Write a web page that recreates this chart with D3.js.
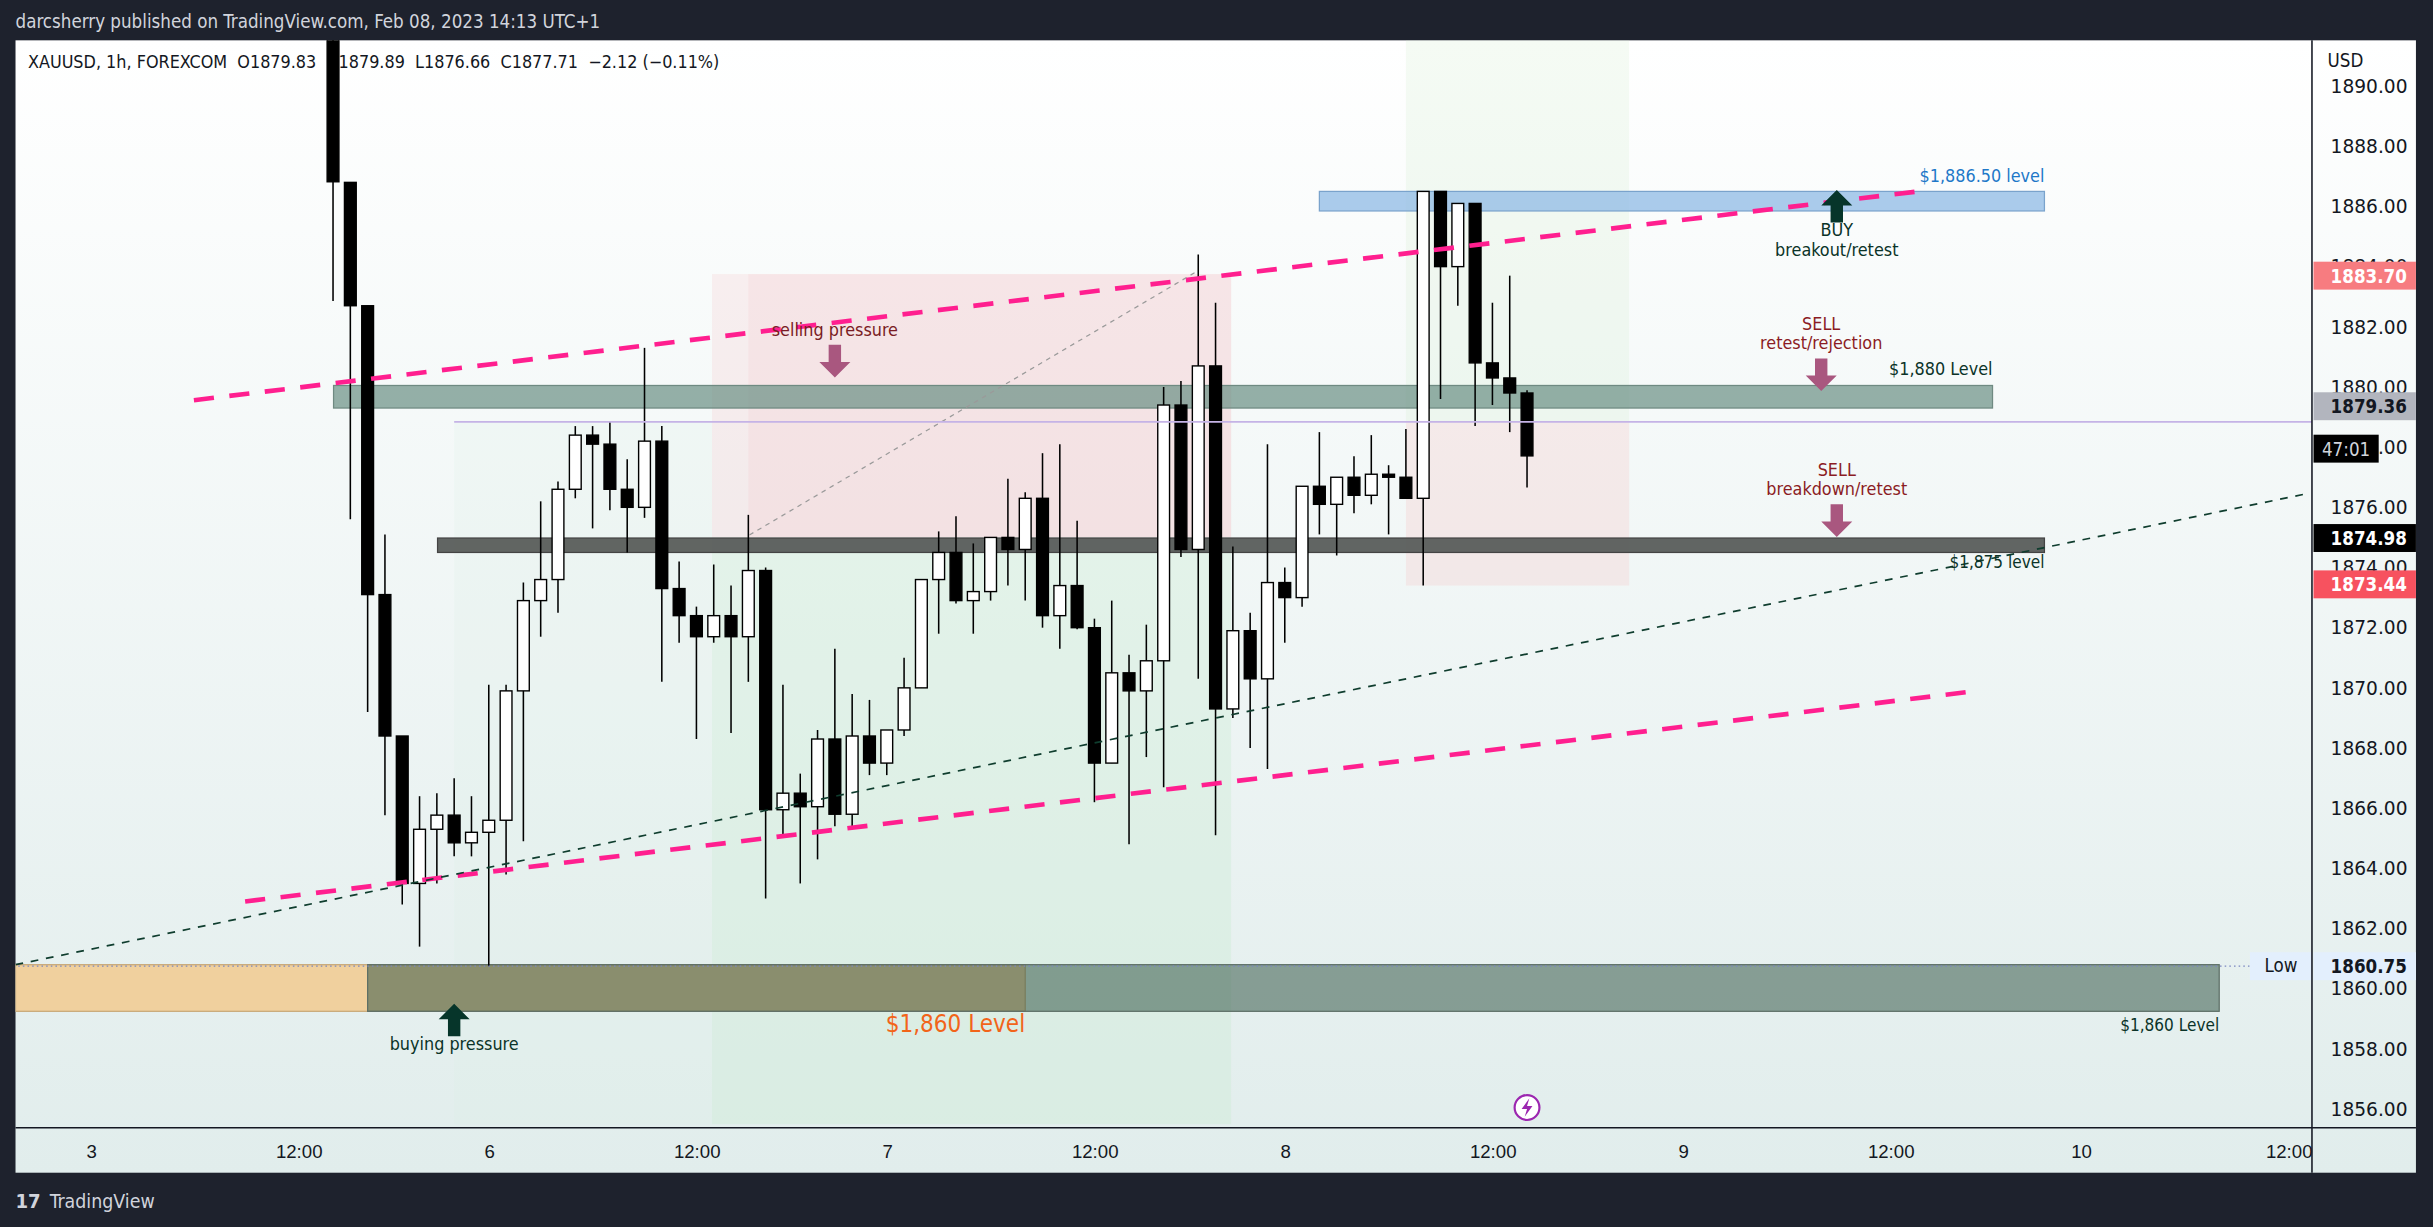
<!DOCTYPE html>
<html>
<head>
<meta charset="utf-8">
<script src="https://cdn.jsdelivr.net/npm/d3@7"></script>
<style>
  html, body { margin: 0; padding: 0; background: #1e222d; overflow: hidden; }
  svg { display: block; font-family: "DejaVu Sans Condensed", "DejaVu Sans", sans-serif; }
</style>
</head>
<body>
<div id="chart"></div>
<script>
// hourly XAUUSD candles, index 0 = Feb 3 14:00
const opens = [1892.5,1886.8,1882.7,1873.1,1868.4,1863.5,1865.3,1865.77,1864.85,1865.2,
  1865.6,1869.9,1872.9,1873.6,1876.6,1878.4,1878.1,1876.6,1876.0,1878.2,
  1873.3,1872.4,1871.7,1872.4,1871.7,1873.9,1865.95,1866.5,1866.05,1868.3,
  1865.8,1868.4,1867.5,1868.6,1870.0,1873.6,1874.5,1872.9,1873.2,1875.0,
  1874.6,1876.3,1872.4,1873.4,1872.0,1867.5,1870.5,1869.9,1870.9,1879.4,
  1874.6,1880.7,1869.3,1871.9,1870.3,1873.5,1873.0,1876.7,1876.1,1877.0,
  1876.4,1877.1,1877.0,1876.3,1886.5,1884.0,1886.1,1880.8,1880.3,1879.8];
const closes = [1886.82,1882.7,1873.1,1868.4,1863.5,1865.3,1865.77,1864.85,1865.2,1865.6,
  1869.9,1872.9,1873.6,1876.6,1878.4,1878.1,1876.6,1876.0,1878.2,1873.3,
  1872.4,1871.7,1872.4,1871.7,1873.9,1865.95,1866.5,1866.05,1868.3,1865.8,
  1868.4,1867.5,1868.6,1870.0,1873.6,1874.5,1872.9,1873.2,1875.0,1874.6,
  1876.3,1872.4,1873.4,1872.0,1867.5,1870.5,1869.9,1870.9,1879.4,1874.6,
  1880.7,1869.3,1871.9,1870.3,1873.5,1873.0,1876.7,1876.1,1877.0,1876.4,
  1877.1,1877.0,1876.3,1886.5,1884.0,1886.1,1880.8,1880.3,1879.8,1877.71];
const highs = [1893,1886.8,1882.7,1875.1,1868.4,1866.4,1866.5,1867.0,1866.4,1870.1,
  1870.1,1873.5,1876.2,1876.86,1878.7,1878.7,1878.84,1877.6,1881.3,1878.7,
  1874.2,1872.7,1874.1,1873.4,1875.75,1874.0,1870.1,1867.15,1868.6,1871.3,
  1869.8,1869.6,1868.6,1871.0,1873.6,1875.2,1875.7,1874.8,1875.0,1876.95,
  1876.5,1877.8,1878.1,1875.55,1872.3,1872.9,1871.1,1872.1,1880.0,1880.2,
  1884.4,1882.8,1874.7,1872.5,1878.1,1874.0,1876.7,1878.5,1877.0,1877.7,
  1878.4,1877.4,1878.6,1886.5,1886.5,1886.1,1886.1,1882.8,1883.7,1879.89];
const lows = [1882.86,1875.6,1869.2,1865.77,1862.8,1861.4,1863.5,1864.4,1864.4,1860.75,
  1863.8,1864.9,1871.7,1872.5,1876.3,1875.3,1875.9,1874.5,1875.65,1870.2,
  1871.5,1868.3,1871.5,1868.5,1870.2,1863.0,1865.1,1863.5,1864.3,1865.4,
  1865.3,1867.1,1867.1,1868.4,1870.0,1871.8,1872.8,1871.8,1872.9,1873.4,
  1872.9,1872.0,1871.3,1871.95,1866.2,1867.5,1864.8,1867.7,1866.7,1874.35,
  1870.3,1865.1,1869.0,1868.0,1867.3,1871.5,1872.7,1875.1,1874.4,1875.8,
  1876.1,1875.1,1876.3,1873.4,1879.6,1882.7,1878.7,1879.4,1878.5,1876.66];

const timeTicks = [-14, -2, 9, 21, 32, 44, 55, 67, 78, 90, 101, 113];
const timeLabels = ['3','12:00','6','12:00','7','12:00','8','12:00','9','12:00','10','12:00'];
const priceTicks = d3.range(1856, 1891, 2);
const axisTags = [
  {p: 1883.70, text: '1883.70', bg: '#f77c80', fg: '#fff'},
  {p: 1879.36, text: '1879.36', bg: '#b2b5be', fg: '#131722'},
  {p: 1877.95, text: '47:01', bg: '#000', fg: '#d1d4dc', short: true},
  {p: 1874.98, text: '1874.98', bg: '#000', fg: '#fff'},
  {p: 1873.44, text: '1873.44', bg: '#f7525f', fg: '#fff'},
  {p: 1860.75, text: '1860.75', bg: '#e3effd', fg: '#131722'}
];
// zones: i = [from, to] candle index, p = [top, bottom] price
const zones = [
  {i: [21.9, 51.9], p: [1883.75, 1875.0], fill: 'rgba(245,190,195,0.22)'},
  {i: [24.0, 51.9], p: [1883.75, 1875.0], fill: 'rgba(245,190,195,0.18)'},
  {i: [21.9, 51.9], p: [1875.0, 1855.5], fill: 'rgba(200,235,210,0.35)'},
  {i: [7.0, 21.9], p: [1878.84, 1855.5], fill: 'rgba(215,238,225,0.18)'},
  {i: [62.0, 74.9], p: [1891.8, 1878.84], fill: 'rgba(205,235,200,0.20)'},
  {i: [62.0, 74.9], p: [1878.84, 1873.4], fill: 'rgba(245,200,200,0.30)'}
];
const bands = [
  {i: [0.03, 95.9], p: [1880.05, 1879.3], fill: 'rgba(110,145,135,0.72)', stroke: '#6f8a82'},
  {i: [6.04, 98.9], p: [1874.98, 1874.5], fill: 'rgba(85,88,86,0.92)', stroke: '#444'},
  {i: [57.0, 98.9], p: [1886.5, 1885.85], fill: 'rgba(150,190,230,0.8)', stroke: '#7aa3cc'},
  {i: [-18.35, 40.0], p: [1860.8, 1859.25], fill: '#f0d09e', stroke: '#c8a877'},
  {i: [2.0, 109.0], p: [1860.8, 1859.25], fill: 'rgba(51,86,70,0.54)', stroke: '#5d6f66'}
];
const trendLines = [
  {i: [-8.04, 91.6], p: [1879.56, 1886.5], color: '#ff1f8f', w: 3, dash: '13,10'},
  {i: [-5.08, 94.6], p: [1862.9, 1869.87], color: '#ff1f8f', w: 3, dash: '13,10'},
  {i: [-18.35, 114.2], p: [1860.8, 1876.47], color: '#0f3d2e', w: 1.1, dash: '5,5'},
  {i: [24.06, 49.8], p: [1875.08, 1883.8], color: '#9a9a9a', w: 0.8, dash: '3,3'},
  {i: [7.0, 124.5], p: [1878.84, 1878.84], color: '#c5b3e6', w: 1, dash: null},
  {i: [-19.0, 110.8], p: [1860.75, 1860.75], color: '#7a86c0', w: 0.8, dash: '1,2'}
];
const notes = [
  {i: 29.0, p: 1881.4, lines: ['selling pressure'], color: '#7a1c24'},
  {i: 86.9, p: 1886.55, lines: ['BUY', 'breakout/retest'], color: '#0b3328', up: true},
  {i: 86.0, p: 1880.95, lines: ['SELL', 'retest/rejection'], color: '#8b1c24'},
  {i: 86.9, p: 1876.1, lines: ['SELL', 'breakdown/retest'], color: '#8b1c24'},
  {i: 7.0, p: 1859.5, lines: ['buying pressure'], color: '#0b3328', up: true}
];
const labels = [
  {i: 98.9, p: 1886.8, text: '$1,886.50 level', color: '#1e78c8', size: 11.5},
  {i: 95.9, p: 1880.4, text: '$1,880 Level', color: '#0b3328', size: 11.5},
  {i: 98.9, p: 1874.0, text: '$1,875 level', color: '#0b3328', size: 11},
  {i: 40.0, p: 1858.55, text: '$1,860 Level', color: '#f26419', size: 15.5},
  {i: 109.0, p: 1858.6, text: '$1,860 Level', color: '#0b3328', size: 11}
];

const W = 1568, H = 791;
const svg = d3.select('#chart').append('svg')
  .attr('width', 2433).attr('height', 1227)
  .attr('viewBox', `0 0 ${W} ${H}`)
  .attr('preserveAspectRatio', 'none');

const plot = {l: 10, r: 1490, t: 26, b: 727};
const x = d3.scaleLinear().domain([9, 55]).range([315, 828]);
const y = d3.scaleLinear().domain([1890, 1856]).range([55.5, 715]);

const defs = svg.append('defs');
const grad = defs.append('linearGradient').attr('id', 'bg').attr('x1', 0).attr('y1', 0).attr('x2', 0).attr('y2', 1);
grad.append('stop').attr('offset', '0%').attr('stop-color', '#ffffff');
grad.append('stop').attr('offset', '100%').attr('stop-color', '#e1edec');
defs.append('clipPath').attr('id', 'clip').append('rect')
  .attr('x', plot.l).attr('y', plot.t).attr('width', plot.r - plot.l).attr('height', plot.b - plot.t);

svg.append('rect').attr('width', W).attr('height', H).attr('fill', '#1e222d');
svg.append('rect').attr('x', plot.l).attr('y', plot.t).attr('width', 1557 - plot.l).attr('height', 756 - plot.t)
  .attr('fill', 'url(#bg)');

svg.append('text').attr('x', 10).attr('y', 18).attr('fill', '#d1d4dc').attr('font-size', 12)
  .text('darcsherry published on TradingView.com, Feb 08, 2023 14:13 UTC+1');

const g = svg.append('g').attr('clip-path', 'url(#clip)');

g.selectAll('rect.zone').data(zones).enter().append('rect')
  .attr('x', d => x(d.i[0])).attr('width', d => x(d.i[1]) - x(d.i[0]))
  .attr('y', d => y(d.p[0])).attr('height', d => y(d.p[1]) - y(d.p[0]))
  .attr('fill', d => d.fill);

g.selectAll('rect.band').data(bands).enter().append('rect')
  .attr('x', d => x(d.i[0])).attr('width', d => x(d.i[1]) - x(d.i[0]))
  .attr('y', d => y(d.p[0])).attr('height', d => y(d.p[1]) - y(d.p[0]))
  .attr('fill', d => d.fill).attr('stroke', d => d.stroke).attr('stroke-width', 0.8);

// legend sits under the candles, like the original
g.append('text').attr('x', 18).attr('y', 44).attr('fill', '#131722').attr('font-size', 11.5)
  .attr('xml:space', 'preserve')
  .text('XAUUSD, 1h, FOREXCOM  O1879.83  H1879.89  L1876.66  C1877.71  \u22122.12 (\u22120.11%)');

const candles = opens.map((o, i) => ({i, o, c: closes[i], h: highs[i], l: lows[i]}));
const bw = 7.6;
const cg = g.selectAll('g.candle').data(candles).enter().append('g');
cg.append('line')
  .attr('x1', d => x(d.i)).attr('x2', d => x(d.i))
  .attr('y1', d => y(d.h)).attr('y2', d => y(d.l))
  .attr('stroke', '#000').attr('stroke-width', 1);
cg.append('rect')
  .attr('x', d => x(d.i) - bw / 2).attr('width', bw)
  .attr('y', d => y(Math.max(d.o, d.c)))
  .attr('height', d => Math.max(1.5, Math.abs(y(d.o) - y(d.c))))
  .attr('fill', d => d.c >= d.o ? '#fff' : '#000')
  .attr('stroke', '#000').attr('stroke-width', 0.9);

g.selectAll('line.trend').data(trendLines).enter().append('line')
  .attr('x1', d => x(d.i[0])).attr('x2', d => x(d.i[1]))
  .attr('y1', d => y(d.p[0])).attr('y2', d => y(d.p[1]))
  .attr('stroke', d => d.color).attr('stroke-width', d => d.w)
  .attr('stroke-dasharray', d => d.dash);

const arrowPath = (cx, top, up) => up
  ? `M${cx},${top}l10,10h-6v11h-8v-11h-6z`
  : `M${cx-4},${top}h8v11h6l-10,10l-10,-10h6z`;
notes.forEach(n => {
  const cx = x(n.i), py = y(n.p);
  const ng = g.append('g');
  ng.append('path').attr('d', arrowPath(cx, py, n.up)).attr('fill', n.up ? '#06352a' : '#a9577f');
  n.lines.forEach((t, k) => ng.append('text').attr('x', cx)
    .attr('y', n.up ? py + 30 + k * 12.5 : py - 6 - (n.lines.length - 1 - k) * 12.5)
    .attr('text-anchor', 'middle').attr('font-size', 11.5).attr('fill', n.color).text(t));
});

g.selectAll('text.lbl').data(labels).enter().append('text')
  .attr('x', d => x(d.i)).attr('y', d => y(d.p))
  .attr('text-anchor', 'end').attr('font-size', d => d.size)
  .attr('fill', d => d.color).text(d => d.text);

// Low tag
g.append('rect').attr('x', 1450).attr('y', y(1860.75) - 9).attr('width', 40).attr('height', 18).attr('fill', '#e3effd');
g.append('text').attr('x', 1470).attr('y', y(1860.75) + 4).attr('text-anchor', 'middle')
  .attr('font-size', 12).attr('fill', '#131722').text('Low');

// lightning badge
g.append('circle').attr('cx', x(69)).attr('cy', 714).attr('r', 8).attr('fill', '#fff').attr('stroke', '#9c27b0').attr('stroke-width', 1.4);
g.append('path').attr('d', `M${x(69)+1.5},708l-5,7h3.5l-1.5,5l5,-7h-3.5z`).attr('fill', '#9c27b0');

// price axis
svg.append('line').attr('x1', plot.r).attr('x2', plot.r).attr('y1', plot.t).attr('y2', 756).attr('stroke', '#131722');
svg.append('line').attr('x1', plot.l).attr('x2', 1557).attr('y1', plot.b).attr('y2', plot.b).attr('stroke', '#131722');
const yAxis = d3.axisRight(y).tickValues(priceTicks).tickSize(0).tickPadding(12).tickFormat(d3.format('.2f'));
svg.append('g').attr('transform', `translate(${plot.r},0)`).call(yAxis)
  .call(a => a.select('.domain').remove())
  .selectAll('text').attr('font-size', 12).attr('fill', '#131722')
  .attr('font-family', '"DejaVu Sans", sans-serif');
svg.append('text').attr('x', 1500).attr('y', 43).attr('font-size', 12).attr('fill', '#131722').text('USD');

const tags = svg.append('g');
axisTags.forEach(t => {
  tags.append('rect').attr('x', plot.r + 1).attr('y', y(t.p) - 9)
    .attr('width', t.short ? 42 : 66).attr('height', 18).attr('fill', t.bg);
  tags.append('text').attr('x', t.short ? plot.r + 22 : plot.r + 12).attr('y', y(t.p) + 4.5)
    .attr('text-anchor', t.short ? 'middle' : 'start')
    .attr('font-size', 12).attr('font-weight', t.short ? null : 'bold').attr('fill', t.fg).text(t.text);
});

// time axis
const xAxis = d3.axisBottom(x).tickValues(timeTicks).tickSize(0).tickPadding(11)
  .tickFormat((d, k) => timeLabels[k]);
svg.append('g').attr('transform', `translate(0,${plot.b})`).call(xAxis)
  .call(a => a.select('.domain').remove())
  .selectAll('text').attr('font-size', 12).attr('fill', '#131722');

// footer logo
svg.append('text').attr('x', 10).attr('y', 779).attr('fill', '#d1d4dc').attr('font-size', 13)
  .attr('font-weight', 'bold').text('17');
svg.append('text').attr('x', 32).attr('y', 779).attr('fill', '#d1d4dc').attr('font-size', 12.5)
  .text('TradingView');
</script>
</body>
</html>
